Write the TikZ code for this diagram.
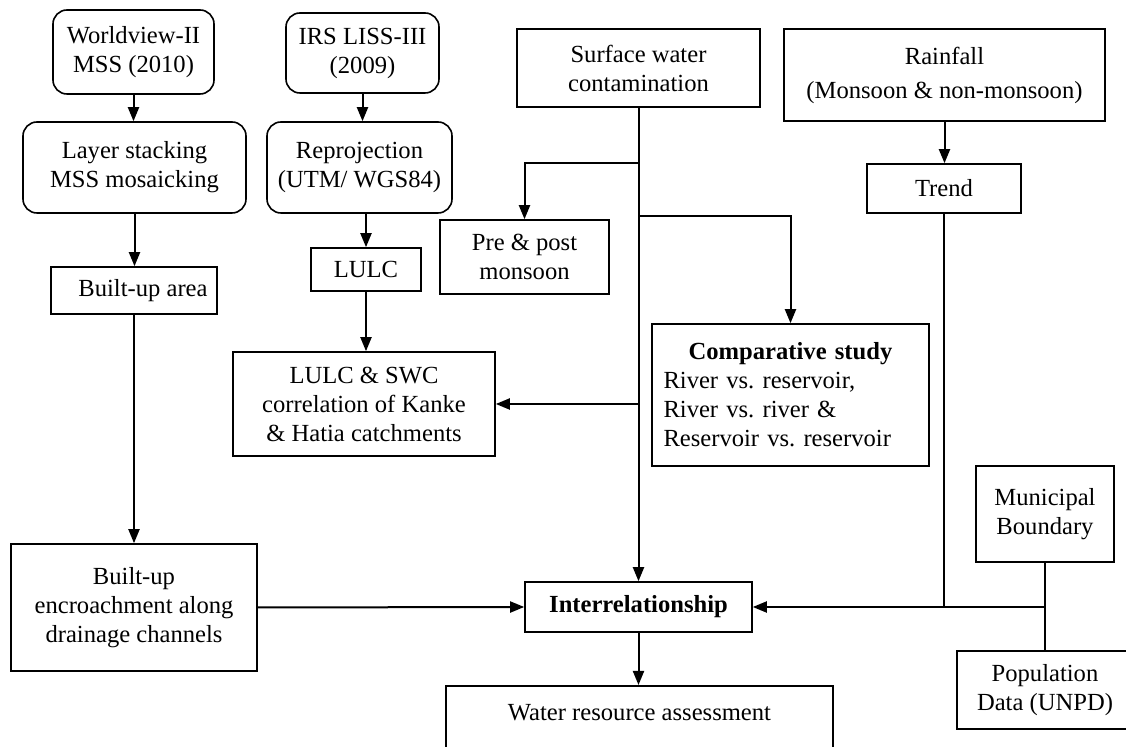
\documentclass[tikz,border=0pt]{standalone}
\usepackage{fontspec}
\setmainfont{Liberation Serif}
\usetikzlibrary{arrows.meta,positioning,calc}
\tikzset{
  blk/.style={draw,line width=0.8pt,align=center,inner sep=2pt},
  rblk/.style={blk,rounded corners=7pt},
  arr/.style={line width=1pt,-{Triangle[length=7pt,width=5.5pt]}},
  lnk/.style={line width=1pt},
}
\frenchspacing
\begin{document}
\begin{tikzpicture}[x=0.5pt,y=-0.5pt,font=\fontsize{12.3}{14.5}\selectfont]
\useasboundingbox (0,0) rectangle (1126,747);
% left column
\node[rblk,minimum width=80.5pt,minimum height=42pt] (world) at (133.5,52) {Worldview-II\\MSS (2010)};
\node[rblk,minimum width=111.5pt,minimum height=45.5pt] (layer) at (134.5,167.5) {Layer stacking\\MSS mosaicking};
\node[blk,minimum width=83pt,minimum height=23.5pt] (bua) at (134,290.5) {\hspace{9pt}Built-up area};
\node[blk,minimum width=123pt,minimum height=63.5pt] (enc) at (134,607.5) {Built-up\\encroachment along\\drainage channels};
% second column
\node[rblk,minimum width=76.5pt,minimum height=40pt] (irs) at (362.5,53) {IRS LISS-III\\(2009)};
\node[rblk,minimum width=92.5pt,minimum height=45.5pt] (reproj) at (359.5,167.5) {Reprojection\\(UTM/ WGS84)};
\node[blk,minimum width=55pt,minimum height=21.5pt] (lulc) at (366,269.5) {LULC};
\node[blk,minimum width=131pt,minimum height=52pt] (lsw) at (364,404) {LULC \& SWC\\correlation of Kanke\\\& Hatia catchments};
% surface water
\node[blk,minimum width=121.5pt,minimum height=39pt] (swc) at (638.5,68) {Surface water\\contamination};
\node[blk,minimum width=84.5pt,minimum height=37pt] (prepost) at (524.5,257) {Pre \& post\\monsoon};
\node[blk,minimum width=138.5pt,minimum height=71pt,text width=127pt,align=left] (comp) at (790.5,395)
  {\makebox[\linewidth]{\textbf{Comparative study}}\\River vs. reservoir,\\River vs. river \&\\Reservoir vs. reservoir};
\node[blk,minimum width=113.5pt,minimum height=25pt] (inter) at (638.5,607) {\textbf{Interrelationship}};
\node[blk,anchor=north,minimum width=193.5pt,inner ysep=9.5pt,text depth=30pt] (water) at (639.5,685) {Water resource assessment};
% right column
\node[blk,minimum width=160.5pt,minimum height=46pt] (rain) at (944.5,75) {Rainfall\\[2.5pt](Monsoon \& non-monsoon)};
\node[blk,minimum width=77pt,minimum height=24.5pt] (trend) at (944,188.5) {Trend};
\node[blk,minimum width=69pt,minimum height=48pt] (muni) at (1045,514) {Municipal\\Boundary};
\node[blk,minimum width=88pt,minimum height=39pt] (pop) at (1045,690) {Population\\Data (UNPD)};
\coordinate (j1) at (638.5,163);
\coordinate (j2) at (638.5,216);
% connectors
\draw[arr] (world.south) -- (world.south |- layer.north);
\draw[arr] (layer.south) -- (layer.south |- bua.north);
\draw[arr] (bua.south) -- (bua.south |- enc.north);
\draw[arr] (irs.south) -- (irs.south |- reproj.north);
\draw[arr] (lulc.north |- reproj.south) -- (lulc.north);
\draw[arr] (lulc.south) -- (lulc.south |- lsw.north);
\draw[arr] (swc.south) -- (inter.north);
\draw[arr] (j1) -| (prepost.north);
\draw[arr] (j2) -| (comp.north);
\draw[arr] (swc.south |- lsw.east) -- (lsw.east);
\draw[arr] (rain.south) -- (rain.south |- trend.north);
\draw[arr] (trend.south) |- (inter.east);
\draw[lnk] (muni.south) -- (pop.north);
\draw[lnk] (muni.south |- inter.east) -- (trend.south |- inter.east);
\draw[arr] (enc.east) -- (inter.west);
\draw[arr] (inter.south) -- (inter.south |- water.north);
\end{tikzpicture}
\end{document}
